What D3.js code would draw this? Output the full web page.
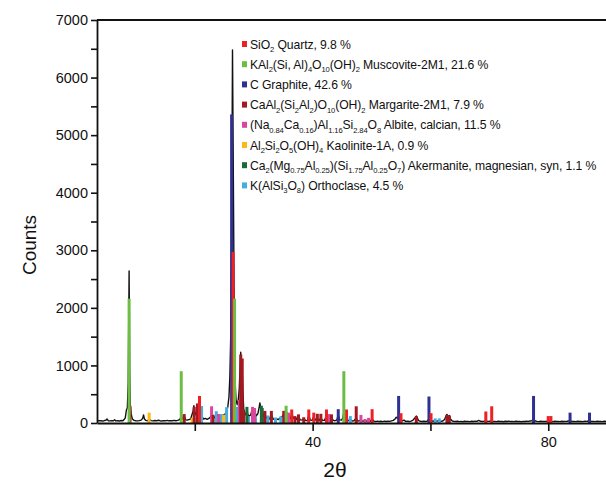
<!DOCTYPE html>
<html>
<head>
<meta charset="utf-8">
<script src="https://cdn.jsdelivr.net/npm/d3@7"></script>
<style>
  html, body { margin: 0; padding: 0; background: #fff; }
  svg { display: block; font-family: "Liberation Sans", Arial, sans-serif; }
</style>
</head>
<body>
<svg id="chart" width="606" height="482"></svg>
<script>
// ---------------- DATA ----------------
const yTicks = [0, 500, 1000, 1500, 2000, 2500, 3000, 3500, 4000, 4500, 5000, 5500, 6000, 6500, 7000];
const yTickLabels = ["0", "", "1000", "", "2000", "", "3000", "", "4000", "", "5000", "", "6000", "", "7000"];
const xTicks = [20, 40, 60, 80];
const xTickLabels = ["", "40", "", "80"];

// measured scan [2θ, counts]
const scan = [
[3.4,45],[3.7,38],[4.0,42],[4.3,35],[4.6,40],[4.9,48],[5.1,70],[5.3,40],[5.6,36],[5.9,42],[6.2,38],[6.4,55],[6.6,36],[6.9,40],[7.2,34],[7.5,44],[7.8,40],[8.0,60],[8.2,90],[8.4,230],[8.55,260],[8.7,700],[8.85,2640],[8.95,900],[9.05,300],[9.2,160],[9.4,70],[9.7,45],[10.0,40],[10.3,36],[10.6,42],[10.9,50],[11.15,80],[11.3,140],[11.45,70],[11.7,45],[12.0,40],[12.3,60],[12.6,42],[12.9,36],[13.2,44],[13.5,38],[13.8,48],[14.1,40],[14.4,35],[14.7,42],[15.0,38],[15.3,45],[15.6,38],[15.9,42],[16.2,40],[16.5,46],[16.8,40],[17.1,45],[17.4,60],[17.6,90],[17.75,130],[17.9,70],[18.1,60],[18.25,110],[18.45,55],[18.7,50],[19.0,60],[19.3,70],[19.5,140],[19.7,200],[19.85,300],[20.0,140],[20.2,160],[20.4,300],[20.6,180],[20.8,380],[21.0,220],[21.2,110],[21.5,70],[21.8,80],[22.1,65],[22.4,80],[22.7,110],[22.9,160],[23.1,130],[23.4,90],[23.7,120],[24.0,140],[24.3,100],[24.6,120],[24.9,140],[25.2,160],[25.4,200],[25.6,280],[25.8,450],[25.95,800],[26.1,1500],[26.25,3200],[26.4,6480],[26.55,4200],[26.7,1800],[26.85,700],[27.0,400],[27.2,320],[27.4,420],[27.55,600],[27.7,1000],[27.8,1230],[27.9,900],[28.0,1080],[28.15,600],[28.3,250],[28.5,160],[28.7,140],[28.85,240],[29.0,150],[29.2,120],[29.5,140],[29.8,260],[30.0,180],[30.2,210],[30.4,120],[30.7,160],[30.9,260],[31.05,350],[31.2,240],[31.4,190],[31.6,110],[31.85,190],[32.1,90],[32.4,100],[32.7,70],[33.0,150],[33.3,70],[33.6,60],[33.9,70],[34.2,60],[34.6,100],[34.9,120],[35.1,160],[35.3,110],[35.55,200],[35.8,110],[36.0,120],[36.2,70],[36.5,170],[36.7,80],[36.95,90],[37.2,60],[37.55,120],[37.9,55],[38.2,50],[38.5,80],[38.8,45],[39.1,40],[39.35,140],[39.6,50],[39.9,45],[40.2,110],[40.45,50],[40.8,90],[41.1,45],[41.4,85],[41.7,45],[42.0,45],[42.35,130],[42.6,60],[42.8,80],[43.0,55],[43.2,100],[43.5,45],[43.8,40],[44.1,50],[44.35,140],[44.6,55],[44.9,50],[45.1,80],[45.3,190],[45.5,90],[45.75,120],[46.0,45],[46.2,40],[46.4,60],[46.7,35],[47.0,40],[47.2,60],[47.4,90],[47.6,40],[47.9,35],[48.2,50],[48.5,30],[48.9,40],[49.2,30],[49.5,35],[49.8,30],[50.1,70],[50.4,30],[50.7,25],[51.0,32],[51.3,25],[51.6,30],[51.9,24],[52.2,33],[52.5,26],[52.8,30],[53.1,28],[53.4,38],[53.7,45],[54.0,70],[54.2,100],[54.4,85],[54.6,120],[54.8,70],[55.0,60],[55.2,35],[55.5,50],[55.8,28],[56.1,30],[56.4,25],[56.7,32],[57.0,45],[57.2,70],[57.4,90],[57.6,120],[57.8,80],[58.0,40],[58.3,30],[58.6,26],[58.9,30],[59.2,25],[59.5,35],[59.75,80],[60.0,45],[60.3,30],[60.6,35],[60.9,28],[61.2,38],[61.5,30],[61.8,28],[62.1,35],[62.4,60],[62.6,110],[62.8,150],[63.0,100],[63.2,130],[63.4,70],[63.7,35],[64.0,28],[64.3,25],[64.6,30],[64.9,24],[65.2,28],[65.5,22],[65.8,30],[66.1,25],[66.4,28],[66.7,24],[67.0,30],[67.3,26],[67.6,32],[67.9,28],[68.2,45],[68.5,30],[68.8,26],[69.1,30],[69.4,40],[69.7,28],[70.0,30],[70.3,38],[70.6,26],[70.9,28],[71.2,24],[71.5,30],[71.8,25],[72.1,28],[72.4,22],[72.7,30],[73.0,26],[73.3,32],[73.6,25],[73.9,28],[74.2,24],[74.5,30],[74.8,26],[75.1,28],[75.4,22],[75.7,28],[76.0,26],[76.3,30],[76.6,28],[76.9,35],[77.2,40],[77.5,60],[77.8,35],[78.1,28],[78.4,24],[78.7,30],[79.0,26],[79.3,28],[79.6,25],[79.9,35],[80.2,30],[80.5,28],[80.8,24],[81.1,30],[81.4,26],[81.7,28],[82.0,24],[82.3,30],[82.6,26],[82.9,28],[83.2,30],[83.5,38],[83.8,32],[84.1,26],[84.4,28],[84.7,24],[85.0,30],[85.3,26],[85.6,28],[85.9,24],[86.2,30],[86.5,28],[86.8,34],[87.1,30],[87.4,26],[87.7,28],[88.0,24],[88.3,30],[88.6,26],[88.9,28],[89.2,24],[89.5,30],[89.8,26]
];

// reference patterns (stick positions [2θ, counts]) per phase
const quartz = [[20.8,470],[26.5,2970],[36.45,235],[39.35,235],[40.2,180],[42.35,235],[45.75,235],[50.1,240],[55.0,170],[60.1,170],[69.4,200],[70.4,290],[80.0,120],[80.45,120]];
const muscovite = [[8.85,2160],[17.7,900],[26.75,2160],[35.5,300],[45.3,900]];
const graphite = [[26.25,5360],[44.35,240],[54.6,470],[59.75,460],[77.5,470],[83.7,180],[87.0,180]];
const margarite = [[9.0,300],[18.2,155],[19.9,280],[20.45,340],[23.1,140],[27.8,1190],[28.05,1120],[28.3,200],[31.9,210],[33.0,210],[35.1,210],[37.0,120],[37.6,150],[38.5,100],[40.8,160],[41.4,160],[43.2,150],[47.4,290],[57.6,120],[62.8,140],[63.2,130]];
const albite = [[22.85,290],[24.05,155],[27.55,400],[29.8,280],[30.15,260],[35.9,180],[42.75,155],[48.2,140],[48.9,70],[49.5,90]];
const kaolinite = [[12.25,180],[19.55,90],[20.35,90],[24.9,145]];
const akermanite = [[28.85,280],[31.3,300],[31.45,260],[35.2,210]];
const orthoclase = [[21.15,295],[23.65,205],[24.5,155],[25.4,275],[27.15,280],[29.15,115],[30.3,100],[31.7,100],[32.4,130],[33.7,95],[34.6,115],[46.4,120],[60.8,80],[61.5,80]];

const phaseNames = [
  "SiO_{2} Quartz, 9.8 %",
  "KAl_{2}(Si, Al)_{4}O_{10}(OH)_{2} Muscovite-2M1, 21.6 %",
  "C Graphite, 42.6 %",
  "CaAl_{2}(Si_{2}Al_{2})O_{10}(OH)_{2} Margarite-2M1, 7.9 %",
  "(Na_{0.84}Ca_{0.16})Al_{1.16}Si_{2.84}O_{8} Albite, calcian, 11.5 %",
  "Al_{2}Si_{2}O_{5}(OH)_{4} Kaolinite-1A, 0.9 %",
  "Ca_{2}(Mg_{0.75}Al_{0.25})(Si_{1.75}Al_{0.25}O_{7}) Akermanite, magnesian, syn, 1.1 %",
  "K(AlSi_{3}O_{8}) Orthoclase, 4.5 %"
];
const phaseColors = ["#ee2024", "#6cbd45", "#2e3192", "#a3191f", "#d9479b", "#fbb817", "#1c6a36", "#45ade0"];
const phaseSticks = [quartz, muscovite, graphite, margarite, albite, kaolinite, akermanite, orthoclase];
// drawing order of sticks (back to front)
const drawOrder = [7, 4, 5, 6, 3, 2, 0, 1];

// ---------------- CHART ----------------
const svg = d3.select("#chart");
const mLeft = 97, mRight = 606, mTop = 20, mBottom = 423;
const x = d3.scaleLinear().domain([3.4, 89.8]).range([mLeft, mRight]);
const y = d3.scaleLinear().domain([0, 7000]).range([mBottom, mTop]);

// scan line
svg.append("path")
  .datum(scan)
  .attr("fill", "none")
  .attr("stroke", "#111")
  .attr("stroke-width", 1.4)
  .attr("stroke-linejoin", "round")
  .attr("d", d3.line().x(d => x(d[0])).y(d => y(d[1])));

// sticks
const stickW = 3;
drawOrder.forEach(i => {
  svg.append("g").selectAll("rect")
    .data(phaseSticks[i])
    .join("rect")
    .attr("x", d => x(d[0]) - stickW / 2)
    .attr("y", d => y(d[1]))
    .attr("width", stickW)
    .attr("height", d => y(0) - y(d[1]))
    .attr("fill", phaseColors[i]);
});

// axes
const yAxis = d3.axisLeft(y)
  .tickValues(yTicks)
  .tickFormat((d, i) => yTickLabels[i])
  .tickSize(6).tickSizeOuter(0).tickPadding(3);
const gy = svg.append("g").attr("transform", `translate(${mLeft},0)`).call(yAxis);

const xAxis = d3.axisBottom(x)
  .tickValues(xTicks)
  .tickFormat((d, i) => xTickLabels[i])
  .tickSize(8).tickSizeOuter(0).tickPadding(6);
const gx = svg.append("g").attr("transform", `translate(0,${mBottom})`).call(xAxis);

[gx, gy].forEach(g => {
  g.select(".domain").attr("stroke", "#111").attr("stroke-width", 1.8);
  g.selectAll(".tick line").attr("stroke", "#111").attr("stroke-width", 1.6);
  g.selectAll(".tick text")
    .attr("fill", "#111")
    .style("font-family", "'Liberation Sans', Arial, sans-serif")
    .style("font-size", "14.5px");
});

// top frame
svg.append("line")
  .attr("x1", mLeft).attr("x2", mRight)
  .attr("y1", mTop).attr("y2", mTop)
  .attr("stroke", "#111").attr("stroke-width", 1.8);

// axis titles
svg.append("text")
  .attr("transform", "translate(36,245) rotate(-90)")
  .attr("text-anchor", "middle")
  .attr("fill", "#111")
  .style("font-size", "19px")
  .text("Counts");
svg.append("text")
  .attr("x", 335).attr("y", 477)
  .attr("text-anchor", "middle")
  .attr("fill", "#111")
  .style("font-size", "21px")
  .text("2θ");

// legend
const legend = svg.append("g");
phaseNames.forEach((name, i) => {
  const cy = 44 + i * 20.2;
  legend.append("rect")
    .attr("x", 242).attr("y", cy - 3)
    .attr("width", 5).attr("height", 6)
    .attr("fill", phaseColors[i]);
  const t = legend.append("text")
    .attr("x", 250).attr("y", cy + 4.5)
    .attr("fill", "#111")
    .style("font-size", "12.2px")
    .style("letter-spacing", "-0.1px");
  const parts = name.split(/(_\{[^}]*\})/).filter(s => s.length);
  let sub = false;
  parts.forEach(p => {
    if (p.startsWith("_{")) {
      t.append("tspan").attr("dy", sub ? 0 : 3.5).style("font-size", "7.6px").text(p.slice(2, -1));
      sub = true;
    } else {
      const ts = t.append("tspan").text(p);
      if (sub) { ts.attr("dy", -3.5); sub = false; }
    }
  });
});
</script>
</body>
</html>
